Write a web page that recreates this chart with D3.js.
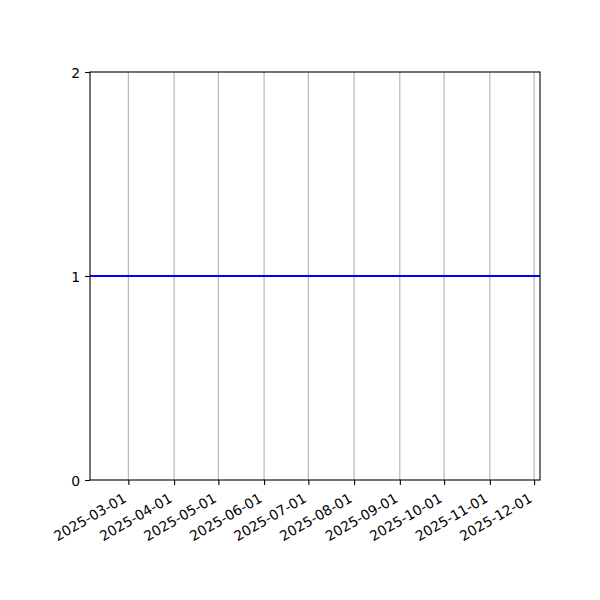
<!DOCTYPE html>
<html>
<head>
<meta charset="utf-8">
<script src="https://cdn.jsdelivr.net/npm/d3@7"></script>
<style>
  body { margin: 0; background: #fff; }
  text { font-family: "DejaVu Sans", sans-serif; }
</style>
</head>
<body>
<div id="chart"></div>
<script>
// x range shown (the constant line runs across it)
const xDomain = ["2025-02-03", "2025-12-05"];
const xTicks = ["2025-03-01", "2025-04-01", "2025-05-01", "2025-06-01", "2025-07-01",
                "2025-08-01", "2025-09-01", "2025-10-01", "2025-11-01", "2025-12-01"];
const yTicks = [0, 1, 2];
const lineValue = 1;

const parse = d3.timeParse("%Y-%m-%d");
const fmt = d3.timeFormat("%Y-%m-%d");

const width = 600, height = 600;
const margin = { top: 72, right: 60, bottom: 120, left: 90 };
const fontSize = 13.9;
const tickLen = 4.9, tickPad = 4.9;

const svg = d3.select("#chart").append("svg")
    .attr("width", width).attr("height", height);

const x = d3.scaleTime()
    .domain(xDomain.map(parse))
    .range([margin.left, width - margin.right]);
const y = d3.scaleLinear()
    .domain([0, 2])
    .range([height - margin.bottom, margin.top]);

// vertical grid
svg.append("g")
    .selectAll("line")
    .data(xTicks.map(parse))
    .join("line")
    .attr("x1", d => x(d)).attr("x2", d => x(d))
    .attr("y1", y(0)).attr("y2", y(2))
    .attr("stroke", "#b0b0b0").attr("stroke-width", 1.1);

// constant line
const lineData = xDomain.map(d => ({ date: parse(d), value: lineValue }));
svg.append("path")
    .datum(lineData)
    .attr("d", d3.line().x(d => x(d.date)).y(d => y(d.value)))
    .attr("fill", "none")
    .attr("stroke", "#0000ff")
    .attr("stroke-width", 2.1);

// frame
svg.append("rect")
    .attr("x", x.range()[0]).attr("y", y(2))
    .attr("width", x.range()[1] - x.range()[0])
    .attr("height", y(0) - y(2))
    .attr("fill", "none").attr("stroke", "#000").attr("stroke-width", 1.1);

// x axis
const xAxisG = svg.append("g")
    .attr("transform", `translate(0,${y(0)})`)
    .call(d3.axisBottom(x).tickValues(xTicks.map(parse)).tickFormat(fmt)
        .tickSize(tickLen).tickSizeOuter(0));
xAxisG.select(".domain").remove();
xAxisG.selectAll(".tick line").attr("stroke", "#000").attr("stroke-width", 1.1);

// rotated labels, right edge of their box at the tick, top under the tick
const h = fontSize * 1.15;
xAxisG.selectAll(".tick text")
    .attr("font-size", fontSize)
    .attr("fill", "#000")
    .attr("text-anchor", "end")
    .attr("dominant-baseline", "central")
    .attr("dy", null)
    .attr("y", null)
    .attr("transform", `translate(${-h / 4},${tickLen + tickPad + 0.433 * h}) rotate(-30)`);

// y axis
const yAxisG = svg.append("g")
    .attr("transform", `translate(${margin.left},0)`)
    .call(d3.axisLeft(y).tickValues(yTicks).tickFormat(d3.format("d"))
        .tickSize(tickLen).tickPadding(tickPad).tickSizeOuter(0));
yAxisG.select(".domain").remove();
yAxisG.selectAll(".tick line").attr("stroke", "#000").attr("stroke-width", 1.1);
yAxisG.selectAll(".tick text")
    .attr("font-size", fontSize)
    .attr("fill", "#000")
    .attr("dy", null)
    .attr("dominant-baseline", "central");
</script>
</body>
</html>
